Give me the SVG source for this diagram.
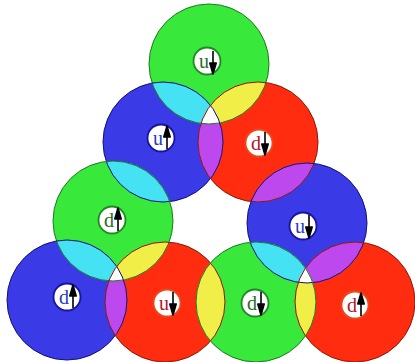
<svg xmlns="http://www.w3.org/2000/svg" width="415" height="362" viewBox="0 0 415 362">
<style>
.g{fill:#38e83a}.b{fill:#3a3ae6}.r{fill:#ff2c10}
.cy{fill:#44e2f2}.ye{fill:#f2ee48}.vi{fill:#bc48ee}.wh{fill:#ffffff}
.ol{fill:none;stroke-width:1}
.og{stroke:#1e7a22}.ob{stroke:#12127a}.or{stroke:#8a1a0a}
.lc{fill:#ffffff;stroke-width:1.8}
.lg{stroke:#1f8a25}.lb{stroke:#1414a0}.lr{stroke:#e84a20}
.t{font-family:"Liberation Serif","Times New Roman",serif;font-size:20px;text-anchor:middle}
.tg{fill:#1e6e2a}.tb{fill:#2a3ac8}.tr{fill:#b8142a}
.ar{stroke:#000;stroke-width:1.6;fill:#000}
</style>
<defs>
<clipPath id="cT"><circle cx="209" cy="64" r="60"/></clipPath>
<clipPath id="cB1"><circle cx="163" cy="142" r="60"/></clipPath>
<clipPath id="cR1"><circle cx="258" cy="142" r="60"/></clipPath>
<clipPath id="cG2"><circle cx="113" cy="221" r="60"/></clipPath>
<clipPath id="cB2"><circle cx="307" cy="223" r="60"/></clipPath>
<clipPath id="cB3"><circle cx="67" cy="300" r="60"/></clipPath>
<clipPath id="cR3"><circle cx="165" cy="302" r="60"/></clipPath>
<clipPath id="cG3"><circle cx="256" cy="302" r="60"/></clipPath>
<clipPath id="cR4"><circle cx="355" cy="302" r="60"/></clipPath>
<path id="dn" d="M0,-11 V4 M-3.2,1 L0,12 L3.2,1 Z" stroke-linejoin="round"/>
</defs>
<g id="circles">
<circle id="T" class="g" cx="209" cy="64" r="60"/>
<circle id="B1" class="b" cx="163" cy="142" r="60"/>
<circle id="R1" class="r" cx="258" cy="142" r="60"/>
<circle id="G2" class="g" cx="113" cy="221" r="60"/>
<circle id="B2" class="b" cx="307" cy="223" r="60"/>
<circle id="B3" class="b" cx="67" cy="300" r="60"/>
<circle id="R3" class="r" cx="165" cy="302" r="60"/>
<circle id="G3" class="g" cx="256" cy="302" r="60"/>
<circle id="R4" class="r" cx="355" cy="302" r="60"/>
</g>
<g id="overlaps">
<circle class="cy" cx="163" cy="142" r="60" clip-path="url(#cT)"/>
<circle class="ye" cx="258" cy="142" r="60" clip-path="url(#cT)"/>
<circle class="vi" cx="258" cy="142" r="60" clip-path="url(#cB1)"/>
<g clip-path="url(#cT)"><circle class="wh" cx="258" cy="142" r="60" clip-path="url(#cB1)"/></g>
<circle class="cy" cx="113" cy="221" r="60" clip-path="url(#cB1)"/>
<circle class="vi" cx="307" cy="223" r="60" clip-path="url(#cR1)"/>
<circle class="cy" cx="67" cy="300" r="60" clip-path="url(#cG2)"/>
<circle class="ye" cx="165" cy="302" r="60" clip-path="url(#cG2)"/>
<circle class="vi" cx="165" cy="302" r="60" clip-path="url(#cB3)"/>
<g clip-path="url(#cG2)"><circle class="wh" cx="165" cy="302" r="60" clip-path="url(#cB3)"/></g>
<circle class="ye" cx="256" cy="302" r="60" clip-path="url(#cR3)"/>
<circle class="cy" cx="256" cy="302" r="60" clip-path="url(#cB2)"/>
<circle class="vi" cx="355" cy="302" r="60" clip-path="url(#cB2)"/>
<circle class="ye" cx="355" cy="302" r="60" clip-path="url(#cG3)"/>
<g clip-path="url(#cB2)"><circle class="wh" cx="355" cy="302" r="60" clip-path="url(#cG3)"/></g>
</g>
<g id="outlines">
<circle class="ol og" cx="209" cy="64" r="60"/>
<circle class="ol ob" cx="163" cy="142" r="60"/>
<circle class="ol or" cx="258" cy="142" r="60"/>
<circle class="ol og" cx="113" cy="221" r="60"/>
<circle class="ol ob" cx="307" cy="223" r="60"/>
<circle class="ol ob" cx="67" cy="300" r="60"/>
<circle class="ol or" cx="165" cy="302" r="60"/>
<circle class="ol og" cx="256" cy="302" r="60"/>
<circle class="ol or" cx="355" cy="302" r="60"/>
</g>
<g id="label-T"><circle class="lc lg" cx="207" cy="61" r="13.5"/><text class="t tg" x="204" y="68">u</text><use href="#dn" class="ar" x="213" y="62"/></g>
<g id="label-B1"><circle class="lc lb" cx="161" cy="138" r="13.5"/><text class="t tb" x="158" y="145">u</text><use href="#dn" class="ar" transform="translate(167,138) scale(1,-1)"/></g>
<g id="label-R1"><circle class="lc lr" cx="259" cy="143" r="13.5"/><text class="t tr" x="256" y="150">d</text><use href="#dn" class="ar" x="265" y="143"/></g>
<g id="label-G2"><circle class="lc lg" cx="112" cy="220" r="13.5"/><text class="t tg" x="109" y="227">d</text><use href="#dn" class="ar" transform="translate(118,220) scale(1,-1)"/></g>
<g id="label-B2"><circle class="lc lb" cx="303" cy="226" r="13.5"/><text class="t tb" x="300" y="233">u</text><use href="#dn" class="ar" x="309" y="226"/></g>
<g id="label-B3"><circle class="lc lb" cx="67" cy="297" r="13.5"/><text class="t tb" x="64" y="304">d</text><use href="#dn" class="ar" transform="translate(73,297) scale(1,-1)"/></g>
<g id="label-R3"><circle class="lc lr" cx="167" cy="303" r="13.5"/><text class="t tr" x="164" y="310">u</text><use href="#dn" class="ar" x="173" y="303"/></g>
<g id="label-G3"><circle class="lc lg" cx="255" cy="303" r="13.5"/><text class="t tg" x="252" y="310">d</text><use href="#dn" class="ar" x="261" y="303"/></g>
<g id="label-R4"><circle class="lc lr" cx="355" cy="305" r="13.5"/><text class="t tr" x="352" y="312">d</text><use href="#dn" class="ar" transform="translate(361,305) scale(1,-1)"/></g>
</svg>
